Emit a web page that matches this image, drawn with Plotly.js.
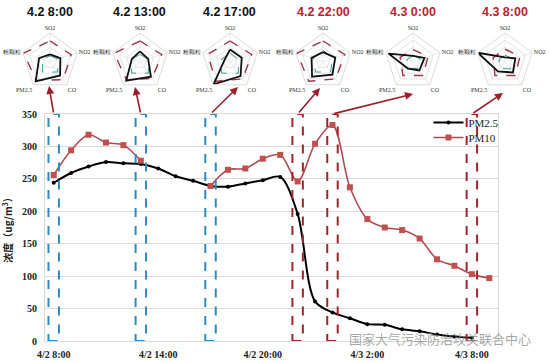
<!DOCTYPE html>
<html><head><meta charset="utf-8">
<script src="https://cdn.plot.ly/plotly-3.0.1.min.js"></script>
<style>html,body{margin:0;padding:0;background:#fff}#chart{width:550px;height:363px}</style>
</head><body><div id="chart"></div>
<script>
// ---------- data ----------
const hours = ['4/2 8:00','4/2 9:00','4/2 10:00','4/2 11:00','4/2 12:00','4/2 13:00','4/2 14:00','4/2 15:00','4/2 16:00','4/2 17:00','4/2 18:00','4/2 19:00','4/2 20:00','4/2 21:00','4/2 22:00','4/2 23:00','4/3 0:00','4/3 1:00','4/3 2:00','4/3 3:00','4/3 4:00','4/3 5:00','4/3 6:00','4/3 7:00','4/3 8:00','4/3 9:00'];
const pm25 = [244,259,269,276,274,273,266,254,247,239,238,243,248,253,196,61,44,35,26,25,18,15,10,7,5,null];
const pm10 = [256,294,318,306,302,278,null,null,null,239,264,266,281,287,246,304,333,237,188,175,171,158,126,116,103,97];
const tickLabels = ['4/2 8:00','4/2 14:00','4/2 20:00','4/3 2:00','4/3 8:00'];
const yTicks = [0,50,100,150,200,250,300,350];

const highlightTimes = ['4/2 8:00','4/2 13:00','4/2 17:00','4/2 22:00','4/3 0:00','4/3 8:00'];
const radarTitles = ['4.2 8:00','4.2 13:00','4.2 17:00','4.2 22:00','4.3 0:00','4.3 8:00'];
const radarAxes = ['SO2','NO2','CO','PM2.5','粗颗粒'];
const radarObserved = [
  [0.25,0.38,0.60,0.85,0.40],
  [0.36,0.30,0.65,0.82,0.30],
  [0.42,0.43,0.63,0.98,0.20],
  [0.33,0.45,0.56,0.65,0.42],
  [0.20,0.42,0.38,0.30,0.90],
  [0.15,0.38,0.47,0.42,1.00]
];
const radarRefRed = [
  [0.72,0.78,0.78,0.82,0.97],
  [0.72,0.80,0.72,0.80,0.95],
  [0.72,0.80,0.75,0.85,0.82],
  [0.72,0.80,0.75,0.85,0.95],
  [0.42,0.55,0.60,0.60,0.47],
  [0.44,0.55,0.60,0.60,0.43]
];
const radarRefTeal = [
  [0.20,0.30,0.45,0.45,0.28],
  [0.25,0.30,0.50,0.50,0.30],
  [0.30,0.30,0.50,0.50,0.30],
  [0.40,0.35,0.45,0.45,0.35],
  [0.22,0.28,0.30,0.30,0.22],
  [0.22,0.30,0.32,0.30,0.22]
];

// ---------- layout geometry ----------
const W = 550, H = 363;
const PL = 45, PR = 498, PT = 114, PB = 341;
const BLUE = '#2b8cbf', RED = '#a3232b';
const radarCx = [50, 140, 230, 323, 413, 505];
const radarCy = 61.6, radarR = 28.6;
const headPx = [[49,86],[135,87],[238,87],[320,88],[413,94],[503,93]];
const catPx = i => PL + (i + 0.5) * (PR - PL) / hours.length;

const serif = 'Liberation Serif, Times New Roman, serif';
const traces = [
  {x: hours, y: pm25, name: 'PM2.5', type: 'scatter', mode: 'lines+markers', legend: 'legend',
   line: {color: '#000', width: 2, shape: 'spline', smoothing: 0.9},
   marker: {color: '#000', size: 4, symbol: 'circle'}, connectgaps: false},
  {x: hours, y: pm10, name: 'PM10', type: 'scatter', mode: 'lines+markers', legend: 'legend2',
   line: {color: '#b04a52', width: 1.6, shape: 'spline', smoothing: 0.9},
   marker: {color: '#c0504d', size: 6, symbol: 'square'}, connectgaps: false}
];

const legendBase = {xanchor: 'left', yanchor: 'top', bgcolor: 'rgba(0,0,0,0)',
  font: {family: serif, size: 11, color: '#222'}, itemwidth: 30};
const layout = {
  width: W, height: H, margin: {l: 0, r: 0, t: 0, b: 0},
  paper_bgcolor: '#fff', plot_bgcolor: '#fff', showlegend: true,
  font: {family: serif, color: '#222'},
  xaxis: {type: 'category', categoryorder: 'array', categoryarray: hours,
    domain: [PL / W, PR / W], range: [-0.5, hours.length - 0.5],
    tickmode: 'array', tickvals: tickLabels, ticktext: tickLabels,
    showgrid: false, zeroline: false, showline: true, linecolor: '#d9d9d9', mirror: true,
    ticks: '', ticklabelstandoff: 4,
    tickfont: {family: serif, size: 10, color: '#222', weight: 'bold'}},
  yaxis: {domain: [1 - PB / H, 1 - PT / H], range: [0, 350],
    tickmode: 'array', tickvals: yTicks, showgrid: true, gridcolor: '#d9d9d9', gridwidth: 1,
    zeroline: false, showline: true, linecolor: '#d9d9d9', mirror: true, ticks: '',
    ticklabelstandoff: 5,
    tickfont: {family: serif, size: 10, color: '#222', weight: 'bold'},
    title: {text: '浓度（ug/m<sup>3</sup>）', standoff: 8,
      font: {family: 'Noto Sans CJK SC, serif', size: 10, color: '#222', weight: 'bold'}}},
  legend: Object.assign({x: 0.779, y: 1 - 108 / H}, legendBase),
  legend2: Object.assign({x: 0.779, y: 1 - 123 / H}, legendBase),
  shapes: [], annotations: []
};

highlightTimes.forEach((t, k) => {
  const i = hours.indexOf(t);
  layout.shapes.push({type: 'rect', xref: 'x', yref: 'y', x0: i - 0.3, x1: i + 0.3, y0: 0, y1: 350,
    line: {color: k < 3 ? BLUE : RED, width: 2, dash: 'dash'}, fillcolor: 'rgba(0,0,0,0)', layer: 'above'});
  layout.annotations.push({xref: 'paper', yref: 'paper', x: radarCx[k] / W, y: 1 - 12 / H,
    text: '<b>' + radarTitles[k] + '</b>', showarrow: false, xanchor: 'center', yanchor: 'middle',
    font: {family: 'Liberation Sans, Arial, sans-serif', size: 12.5, color: k < 3 ? '#111' : '#b8232f'}});
  const tx = catPx(i), ty = PT;
  const hx = headPx[k][0], hy = headPx[k][1];
  layout.annotations.push({xref: 'paper', yref: 'paper', x: hx / W, y: 1 - hy / H,
    axref: 'pixel', ayref: 'pixel', ax: tx - hx, ay: ty - hy, text: '', showarrow: true,
    arrowhead: 2, arrowsize: 1, arrowwidth: 1.6, arrowcolor: '#9c1f2a', standoff: 0, startstandoff: 0});
  const pid = 'polar' + (k === 0 ? '' : (k + 1));
  layout[pid] = {
    domain: {x: [(radarCx[k] - radarR) / W, (radarCx[k] + radarR) / W],
             y: [1 - (radarCy + radarR) / H, 1 - (radarCy - radarR) / H]},
    gridshape: 'linear', bgcolor: 'rgba(0,0,0,0)',
    radialaxis: {range: [0, 1], tickvals: [0.25, 0.5, 0.75, 1], showticklabels: false, ticks: '',
      showline: false, gridcolor: '#e3e3e3', gridwidth: 1},
    angularaxis: {rotation: 90, direction: 'clockwise', ticks: '', showline: true, linecolor: '#dcdcdc',
      gridcolor: '#ececec', tickfont: {family: serif, size: 6, color: '#333'}}
  };
  const close = a => a.concat([a[0]]);
  const th = close(radarAxes);
  traces.push({type: 'scatterpolar', subplot: pid, r: close(radarRefTeal[k]), theta: th, mode: 'lines',
    line: {color: '#3f9c9c', width: 1, dash: 'dash'}, showlegend: false, hoverinfo: 'skip'});
  traces.push({type: 'scatterpolar', subplot: pid, r: close(radarRefRed[k]), theta: th, mode: 'lines',
    line: {color: '#9e3448', width: 1.4, dash: 'dash'}, showlegend: false, hoverinfo: 'skip'});
  traces.push({type: 'scatterpolar', subplot: pid, r: close(radarObserved[k]), theta: th, mode: 'lines',
    line: {color: '#111', width: 1.8}, showlegend: false, hoverinfo: 'skip'});
});

layout.annotations.push({xref: 'paper', yref: 'paper', x: 440 / W, y: 1 - 338 / H, showarrow: false,
  text: '国家大气污染防治攻关联合中心', xanchor: 'center', yanchor: 'middle',
  font: {family: 'Noto Sans CJK SC, sans-serif', size: 13, color: 'rgba(140,140,140,0.75)'}});

Plotly.newPlot('chart', traces, layout, {staticPlot: true, displayModeBar: false});
</script></body></html>
